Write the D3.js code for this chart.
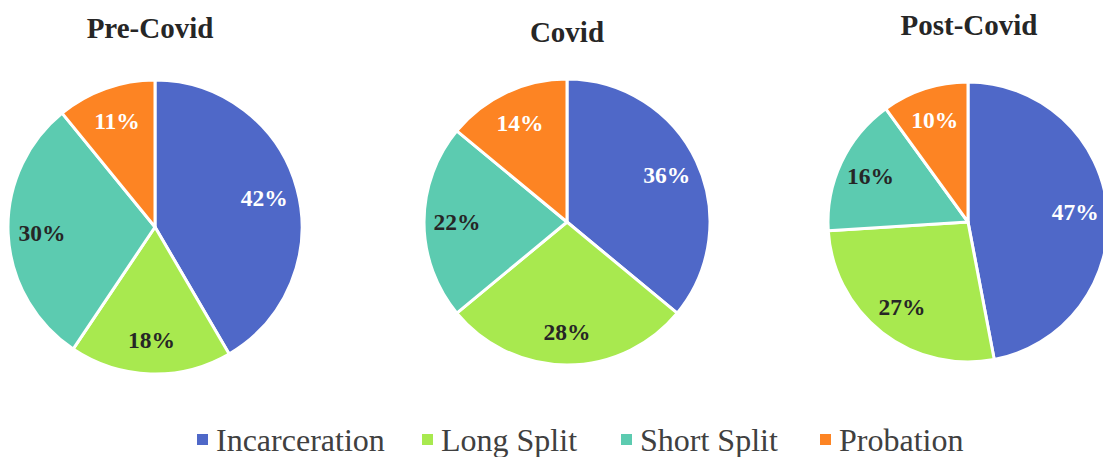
<!DOCTYPE html>
<html>
<head>
<meta charset="utf-8">
<script src="https://cdn.jsdelivr.net/npm/d3@7"></script>
<style>
  body { margin: 0; background: #fff; }
  svg { display: block; }
</style>
</head>
<body>
<svg id="chart"></svg>
<script>
// data
var categories = ["Incarceration", "Long Split", "Short Split", "Probation"];
var periods = ["Pre-Covid", "Covid", "Post-Covid"];
var preCovid = [42, 18, 30, 11];
var covid = [36, 28, 22, 14];
var postCovid = [47, 27, 16, 10];
var seriesValues = [preCovid, covid, postCovid];

var width = 1103, height = 457;

var colorScale = d3.scaleOrdinal()
    .domain(categories)
    .range(["#4f68c8", "#a8e94f", "#5ccbb0", "#fd8423"]);
var labelColor = d3.scaleOrdinal()
    .domain(categories)
    .range(["#ffffff", "#262626", "#262626", "#ffffff"]);

// layout of each pie
var pieLayout = [
    { cx: 155, cy: 227, r: 147, titleX: 150, titleY: 38 },
    { cx: 567, cy: 222, r: 143, titleX: 567, titleY: 42 },
    { cx: 968, cy: 222, r: 140, titleX: 969, titleY: 35 }
];

var serif = "'Liberation Serif', 'Times New Roman', serif";

var svg = d3.select("#chart")
    .attr("width", width)
    .attr("height", height);

var pie = d3.pie().sort(null).value(function (d) { return d.value; });

periods.forEach(function (name, i) {
    var lay = pieLayout[i];
    var data = categories.map(function (c, j) { return { key: c, value: seriesValues[i][j] }; });

    var arc = d3.arc().innerRadius(0).outerRadius(lay.r);
    var labelArc = d3.arc().innerRadius(lay.r * 0.77).outerRadius(lay.r * 0.77);

    var g = svg.append("g")
        .attr("transform", "translate(" + lay.cx + "," + lay.cy + ")");

    g.selectAll("path")
        .data(pie(data))
        .enter()
        .append("path")
        .attr("d", arc)
        .attr("fill", function (d) { return colorScale(d.data.key); })
        .attr("stroke", "#fff")
        .attr("stroke-width", 3)
        .attr("stroke-linejoin", "round");

    g.selectAll("text.lbl")
        .data(pie(data))
        .enter()
        .append("text")
        .attr("class", "lbl")
        .attr("transform", function (d) { return "translate(" + labelArc.centroid(d) + ")"; })
        .attr("text-anchor", "middle")
        .attr("dy", "0.35em")
        .attr("font-family", serif)
        .attr("font-weight", "bold")
        .attr("font-size", 23.5)
        .attr("fill", function (d) { return labelColor(d.data.key); })
        .text(function (d) { return d.data.value + "%"; });

    svg.append("text")
        .attr("x", lay.titleX)
        .attr("y", lay.titleY)
        .attr("text-anchor", "middle")
        .attr("font-family", serif)
        .attr("font-weight", "bold")
        .attr("font-size", 29)
        .attr("fill", "#262626")
        .text(name);
});

// legend
var legendX = [197, 422, 621, 820];
var legend = svg.append("g");
var items = legend.selectAll("g")
    .data(categories)
    .enter()
    .append("g")
    .attr("transform", function (d, i) { return "translate(" + legendX[i] + ",440)"; });

items.append("rect")
    .attr("x", 0)
    .attr("y", -6)
    .attr("width", 11)
    .attr("height", 11)
    .attr("fill", function (d) { return colorScale(d); });

items.append("text")
    .attr("x", 19)
    .attr("y", 11)
    .attr("font-family", serif)
    .attr("font-size", 32)
    .attr("fill", "#404040")
    .text(function (d) { return d; });
</script>
</body>
</html>
